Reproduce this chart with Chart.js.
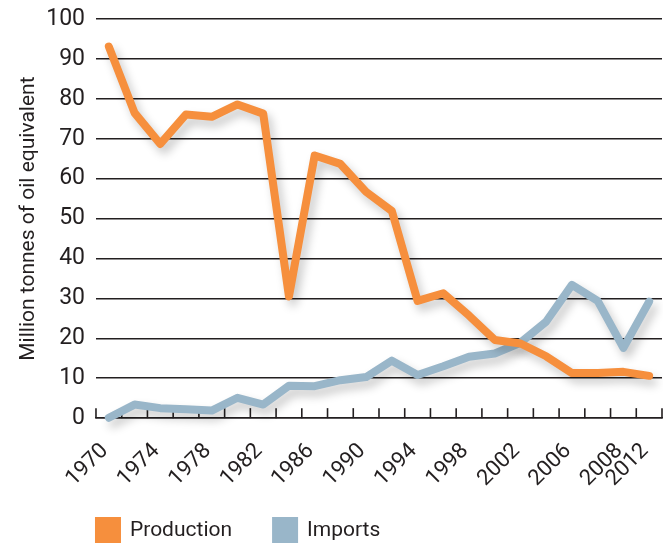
<!DOCTYPE html>
<html>
<head>
<meta charset="utf-8">
<script src="https://cdn.jsdelivr.net/npm/chart.js@4.4.1/dist/chart.umd.min.js"></script>
<style>
  html, body { margin: 0; padding: 0; background: #ffffff; }
  #wrap { width: 663px; height: 546px; }
</style>
</head>
<body>
<div id="wrap"><canvas id="c" width="663" height="546"></canvas></div>
<script>
// ---- data ----
const years = [1970,1972,1974,1976,1978,1980,1982,1984,1986,1988,1990,1992,1994,1996,1998,2000,2002,2004,2006,2008,2010,2012];
const tickLabels = ['1970','','1974','','1978','','1982','','1986','','1990','','1994','','1998','','2002','','2006','','2008','2012'];
const production = [93.1,76.5,68.7,76.1,75.5,78.6,76.3,30.5,65.8,63.7,56.7,51.9,29.4,31.3,25.7,19.6,18.7,15.5,11.3,11.3,11.6,10.6];
const imports = [0.1,3.4,2.5,2.2,1.9,5.1,3.4,8.1,8.0,9.5,10.3,14.4,10.8,13.0,15.4,16.2,18.9,24.2,33.4,29.4,17.6,29.2];
const yTitle = 'Million tonnes of oil equivalent';
const seriesNames = ['Production', 'Imports'];

const INK = '#231f20';
const ORANGE = '#f68f3d';
const BLUE = '#99b6c9';

Chart.defaults.font.family = 'Roboto';
Chart.defaults.color = INK;

const shadowPlugin = {
  id: 'shadow',
  beforeDatasetDraw(chart) {
    const ctx = chart.ctx;
    ctx.save();
    ctx.shadowColor = 'rgba(0,0,0,0.22)';
    ctx.shadowBlur = 10;
    ctx.shadowOffsetX = 4;
    ctx.shadowOffsetY = 6;
  },
  afterDatasetDraw(chart) {
    chart.ctx.restore();
  }
};

const tickPlugin = {
  id: 'innerTicks',
  beforeDatasetsDraw(chart) {
    const xs = chart.scales.x;
    const ctx = chart.ctx;
    const bottom = chart.chartArea.bottom;
    ctx.save();
    ctx.strokeStyle = INK;
    ctx.lineWidth = 1.6;
    for (let i = 0; i <= years.length; i++) {
      const x = xs.getPixelForValue(i - 0.5);
      ctx.beginPath();
      ctx.moveTo(x, bottom);
      ctx.lineTo(x, bottom - 10);
      ctx.stroke();
    }
    ctx.restore();
  }
};

const legendPlugin = {
  id: 'boxLegend',
  afterDraw(chart) {
    const ctx = chart.ctx;
    ctx.save();
    ctx.font = '21px Roboto';
    ctx.textBaseline = 'middle';
    ctx.textAlign = 'left';
    let x = chart.chartArea.left - 1;
    const top = 517, size = 26;
    chart.data.datasets.forEach(ds => {
      ctx.fillStyle = ds.borderColor;
      ctx.fillRect(x, top, size, size);
      ctx.fillStyle = INK;
      ctx.fillText(ds.label, x + size + 9, top + size / 2 + 1);
      x += size + 9 + ctx.measureText(ds.label).width + 40;
    });
    ctx.restore();
  }
};

new Chart(document.getElementById('c'), {
  type: 'line',
  data: {
    labels: years,
    datasets: [
      { label: seriesNames[0], data: production, borderColor: ORANGE, backgroundColor: ORANGE,
        borderWidth: 8, pointRadius: 0, tension: 0, clip: false,
        borderCapStyle: 'round', borderJoinStyle: 'round' },
      { label: seriesNames[1], data: imports, borderColor: BLUE, backgroundColor: BLUE,
        borderWidth: 8, pointRadius: 0, tension: 0, clip: false,
        borderCapStyle: 'round', borderJoinStyle: 'round' }
    ]
  },
  options: {
    responsive: false,
    animation: false,
    layout: { padding: { left: 4, right: 1, top: 1, bottom: 58 } },
    plugins: {
      legend: { display: false },
      tooltip: { enabled: false }
    },
    scales: {
      x: {
        type: 'category',
        offset: true,
        grid: { display: false, drawTicks: true, tickLength: 24 },
        border: { display: true, color: INK, width: 1.6 },
        ticks: {
          autoSkip: false,
          maxRotation: 45,
          minRotation: 45,
          padding: 0,
          labelOffset: -4,
          color: INK,
          font: { size: 22, lineHeight: 0.7 },
          callback: (v, i) => tickLabels[i]
        }
      },
      y: {
        min: 0,
        max: 100,
        grid: { color: INK, lineWidth: 1.5, drawTicks: false },
        border: { display: false },
        ticks: { stepSize: 10, padding: 11, color: INK, font: { size: 23, lineHeight: 0.7 } },
        title: { display: true, text: yTitle, color: INK, font: { size: 21 }, padding: { top: 12, bottom: -6 } }
      }
    }
  },
  plugins: [shadowPlugin, tickPlugin, legendPlugin]
});
</script>
</body>
</html>
